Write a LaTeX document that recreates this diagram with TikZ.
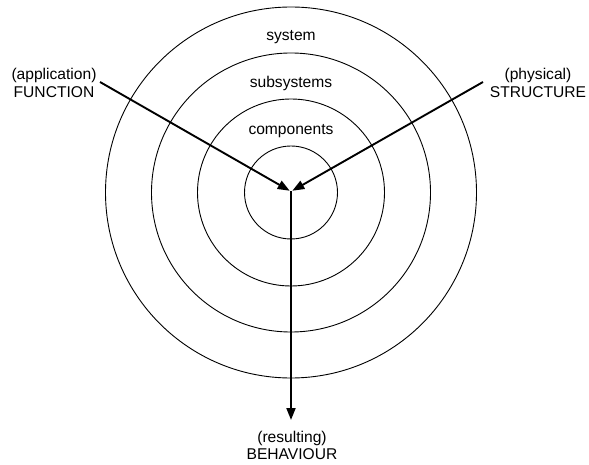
\documentclass[tikz,border=0pt]{standalone}
\usepackage{fontspec}
\setmainfont{Liberation Sans}
\usetikzlibrary{arrows.meta}
\begin{document}
\begin{tikzpicture}[x=1pt,y=-1pt,
  ring/.style={draw=black,line width=0.9pt},
  flow/.style={draw=black,line width=1.9pt,-{Triangle[length=12pt,width=9pt]}},
  lbl/.style={font=\fontsize{15.6}{17.5}\selectfont,align=center,inner sep=0pt},
  lvl/.style={font=\fontsize{15.6}{17.5}\selectfont,inner sep=0pt,anchor=base}]
  \useasboundingbox (0,0) rectangle (589,465);
  % concentric levels
  \coordinate (c) at (291,192.5);
  \draw[ring] (c) circle[radius=46.5];
  \draw[ring] (c) circle[radius=93.5];
  \draw[ring] (c) circle[radius=139.5];
  \draw[ring] (c) circle[radius=185.5];
  % level names
  \node[lvl] (sys) at (291,41) {system};
  \node[lvl] (sub) at (291,88) {subsystems};
  \node[lvl] (comp) at (291,135) {components};
  % outer labels
  \node[lbl] (fn) at (54,83) {(application)\\FUNCTION};
  \node[lbl] (st) at (538,83) {(physical)\\STRUCTURE};
  \node[lbl] (bh) at (292,445.5) {(resulting)\\BEHAVIOUR};
  % arrows
  \coordinate (fs) at (100,82);
  \coordinate (ss) at (483,82);
  \coordinate (j) at (291,191.5);
  \coordinate (be) at (291,420);
  \draw[flow,shorten >=1.5pt] (fs) -- (j);
  \draw[flow,shorten >=1.5pt] (ss) -- (j);
  \draw[flow] (j) -- (be);
\end{tikzpicture}
\end{document}
